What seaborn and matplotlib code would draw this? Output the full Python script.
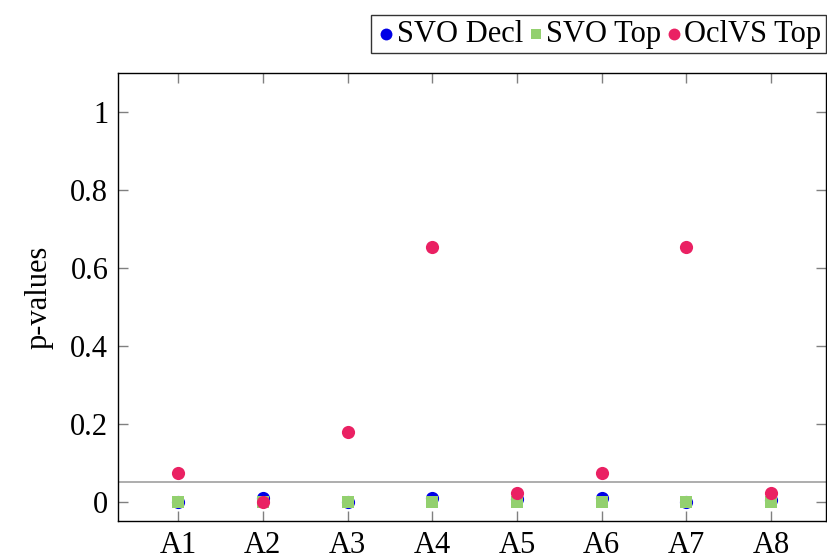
import pandas as pd
import matplotlib.pyplot as plt
import seaborn as sns

categories = ['A1', 'A2', 'A3', 'A4', 'A5', 'A6', 'A7', 'A8']
svo_decl = [0.0, 0.008, 0.0, 0.008, 0.006, 0.008, 0.0, 0.004]
svo_top = [0.0, 0.0, 0.0, 0.0, 0.0, 0.0, 0.0, 0.0]
oclvs_top = [0.072, 0.0, 0.178, 0.653, 0.023, 0.072, 0.653, 0.023]
threshold = 0.05

sns.set_style('ticks')
plt.rcParams['font.family'] = ['Liberation Serif', 'DejaVu Serif']
plt.rcParams['xtick.direction'] = 'in'
plt.rcParams['ytick.direction'] = 'in'
plt.rcParams['text.color'] = 'black'
plt.rcParams['axes.labelcolor'] = 'black'
plt.rcParams['xtick.labelcolor'] = 'black'
plt.rcParams['ytick.labelcolor'] = 'black'

fig = plt.figure(figsize=(8.28, 5.6), dpi=100)
ax = fig.add_axes([0.1425, 0.0696, 0.8551, 0.8])

x = list(range(len(categories)))
series = [
    ('SVO Decl', svo_decl, '#0000e6', 'o', 90),
    ('SVO Top', svo_top, '#93d06f', 's', 65),
    ('OclVS Top', oclvs_top, '#ea2163', 'o', 90),
]
for name, vals, color, marker, size in series:
    sns.scatterplot(x=x, y=vals, ax=ax, color=color, marker=marker, s=size,
                    linewidth=0, label=name, zorder=3)

ax.axhline(threshold, color='#a0a0a0', linewidth=1.2, zorder=1)

ax.set_xlim(-0.71, 7.65)
ax.set_ylim(-0.05, 1.1)
ax.set_xticks(x)
ax.set_xticklabels(categories)
ax.set_yticks([0, 0.2, 0.4, 0.6, 0.8, 1])
ax.set_yticklabels(['0', '0.2', '0.4', '0.6', '0.8', '1'])
ax.tick_params(axis='both', labelsize=22, length=7, width=1, color='#808080',
               top=True, right=True, pad=7)
ax.set_ylabel('p-values', fontsize=22, labelpad=12)
ax.set_xlabel('')
for sp in ax.spines.values():
    sp.set_color('black')
    sp.set_linewidth(1)

leg = ax.legend(loc='upper right', bbox_to_anchor=(0.9976, 0.973),
                bbox_transform=fig.transFigure, ncol=3, fontsize=22,
                frameon=True, fancybox=False, handletextpad=0.0,
                columnspacing=0.05, handlelength=0.7, borderpad=0.15,
                borderaxespad=0, markerscale=0.9)
leg.get_frame().set_edgecolor('black')
leg.get_frame().set_linewidth(1)

fig.savefig('out.png', dpi=100)
